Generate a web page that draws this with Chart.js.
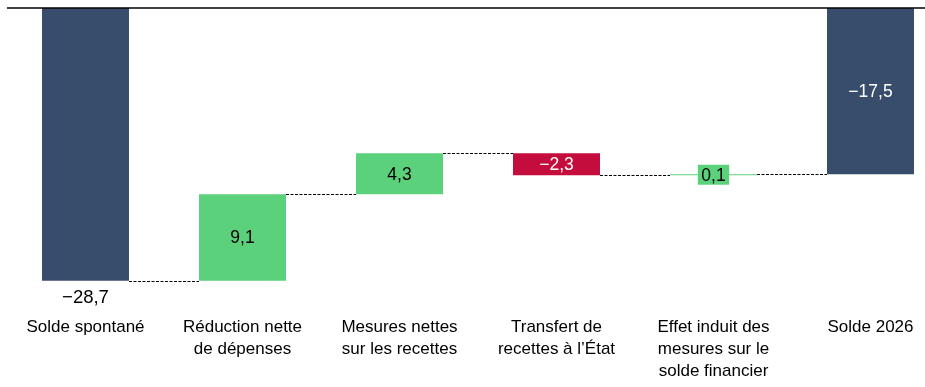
<!DOCTYPE html>
<html>
<head>
<meta charset="utf-8">
<script src="https://cdn.jsdelivr.net/npm/chart.js@4/dist/chart.umd.min.js"></script>
<style>
  html, body { margin: 0; padding: 0; background: #fff; overflow: hidden; }
  #wrap { width: 950px; height: 387px; }
</style>
</head>
<body>
<div id="wrap"><canvas id="waterfall"></canvas></div>
<script>
const categories = [
  ["Solde spontané"],
  ["Réduction nette", "de dépenses"],
  ["Mesures nettes", "sur les recettes"],
  ["Transfert de", "recettes à l’État"],
  ["Effet induit des", "mesures sur le", "solde financier"],
  ["Solde 2026"]
];
const values = [-28.7, 9.1, 4.3, -2.3, 0.1, -17.5];
const isTotal = [true, false, false, false, false, true];

const navy = "#384d6c";
const green = "#5bd17b";
const red = "#c40d3c";
const fontFamily = "'Liberation Sans', Arial, sans-serif";

// build floating bars [start, end]
let running = 0;
const ranges = values.map((v, i) => {
  if (isTotal[i]) {
    running = v;
    return [0, v];
  }
  const start = running;
  running = Math.round((running + v) * 10) / 10;
  return [start, running];
});
const colors = values.map((v, i) => isTotal[i] ? navy : (v >= 0 ? green : red));
const labelColors = values.map((v, i) => isTotal[i] || v < 0 ? "#fff" : "#000");

// french decimal comma, real minus sign
const fmt = v => v.toFixed(1).replace(".", ",").replace("-", "\u2212");

const waterfallExtras = {
  id: "waterfallExtras",
  afterDatasetsDraw(chart) {
    const ctx = chart.ctx;
    const area = chart.chartArea;
    const bars = chart.getDatasetMeta(0).data;
    const yScale = chart.scales.y;

    // zero line along the top
    ctx.save();
    ctx.strokeStyle = "#000";
    ctx.lineWidth = 1.5;
    ctx.beginPath();
    ctx.moveTo(area.left, yScale.getPixelForValue(0));
    ctx.lineTo(area.right, yScale.getPixelForValue(0));
    ctx.stroke();

    // dashed connectors
    ctx.lineWidth = 1;
    ctx.setLineDash([3, 1.5]);
    for (let i = 0; i < bars.length - 1; i++) {
      const a = bars[i], b = bars[i + 1];
      const y = Math.round(yScale.getPixelForValue(ranges[i][1])) + 0.5;
      ctx.beginPath();
      ctx.moveTo(a.x + a.width / 2, y);
      ctx.lineTo(b.x - b.width / 2, y);
      ctx.stroke();
    }
    ctx.setLineDash([]);

    // value labels
    ctx.textAlign = "center";
    ctx.textBaseline = "middle";
    bars.forEach((bar, i) => {
      const top = Math.min(bar.y, bar.base);
      const bottom = Math.max(bar.y, bar.base);
      const text = fmt(values[i]);
      if (i === 0) {
        ctx.font = "18.5px " + fontFamily;
        ctx.fillStyle = "#000";
        ctx.fillText(text, bar.x, bottom + 17);
        return;
      }
      ctx.font = "17.5px " + fontFamily;
      const cy = (top + bottom) / 2;
      if (bottom - top < 20) {
        const w = ctx.measureText(text).width + 7;
        ctx.fillStyle = colors[i];
        ctx.fillRect(bar.x - w / 2, cy - 10, w, 20);
      }
      ctx.fillStyle = labelColors[i];
      ctx.fillText(text, bar.x, cy + 1);
    });
    ctx.restore();
  }
};

new Chart(document.getElementById("waterfall"), {
  type: "bar",
  data: {
    labels: categories,
    datasets: [{
      data: ranges,
      backgroundColor: colors,
      borderWidth: 0,
      borderSkipped: false,
      barPercentage: 0.554,
      categoryPercentage: 1
    }]
  },
  options: {
    responsive: true,
    maintainAspectRatio: false,
    animation: false,
    layout: { padding: { left: 7, right: 1, top: 8, bottom: 1 } },
    plugins: { legend: { display: false }, tooltip: { enabled: false } },
    scales: {
      x: {
        grid: { display: false, drawTicks: false },
        border: { display: false },
        ticks: {
          color: "#000",
          padding: 4,
          maxRotation: 0,
          autoSkip: false,
          font: { family: fontFamily, size: 17, lineHeight: 22 / 17 }
        }
      },
      y: { display: false, min: -32, max: 0 }
    }
  },
  plugins: [waterfallExtras]
});
</script>
</body>
</html>
